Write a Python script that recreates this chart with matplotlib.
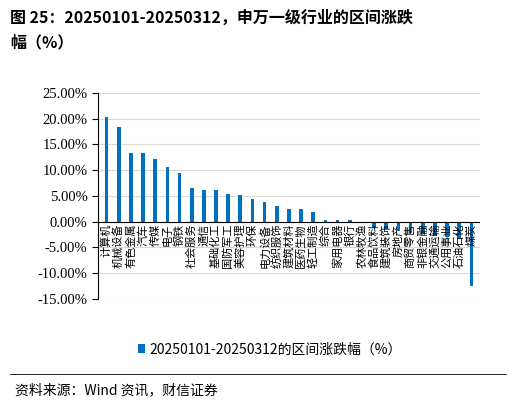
import matplotlib.pyplot as plt
from matplotlib.ticker import FuncFormatter

plt.rcParams['font.family'] = ['Noto Sans CJK SC', 'DejaVu Sans']

industries = ["计算机", "机械设备", "有色金属", "汽车", "传媒", "电子", "钢铁", "社会服务",
              "通信", "基础化工", "国防军工", "美容护理", "环保", "电力设备", "纺织服饰",
              "建筑材料", "医药生物", "轻工制造", "综合", "家用电器", "银行", "农林牧渔",
              "食品饮料", "建筑装饰", "房地产", "商贸零售", "非银金融", "交通运输",
              "公用事业", "石油石化", "煤炭"]
changes = [20.3, 18.3, 13.3, 13.3, 12.1, 10.7, 9.5, 6.5, 6.2, 6.2, 5.3, 5.1, 4.5, 3.9,
           3.1, 2.5, 2.5, 1.9, 0.4, 0.4, 0.4, -0.1, -1.2, -1.5, -1.8, -2.1, -2.4, -2.7,
           -3.0, -3.3, -12.4]
series_name = "20250101-20250312的区间涨跌幅（%）"

fig = plt.figure(figsize=(5.16, 4.04), dpi=100)
ax = fig.add_axes([0.19, 0.26, 0.74, 0.51])

x = range(len(industries))
ax.bar(x, changes, width=0.3, color="#0070C0", label=series_name, zorder=3)
ax.set_ylim(-15, 25)
ax.set_xlim(-0.7, len(industries) - 0.3)
ax.set_yticks(range(-15, 26, 5))
ax.yaxis.set_major_formatter(FuncFormatter(lambda v, p: f"{v:.2f}%"))
for t in ax.get_yticklabels():
    t.set_fontfamily("Liberation Serif")
    t.set_fontsize(10.5)
ax.grid(axis="y", color="#d9d9d9", linewidth=0.8, zorder=0)
ax.set_xticks([])
for s in ["top", "right", "bottom"]:
    ax.spines[s].set_visible(False)
ax.axhline(0, color="black", linewidth=0.8, zorder=4)
ax.tick_params(axis="y", length=4)

for i, name in enumerate(industries):
    ax.text(i, -0.4, name, rotation=90, ha="center", va="top", fontsize=8, zorder=5)

ax.legend(loc="upper center", bbox_to_anchor=(0.45, -0.15), frameon=False,
          fontsize=10, handlelength=0.5, handletextpad=0.3)

fig.text(0.02, 0.975, "图 25：20250101-20250312，申万一级行业的区间涨跌", fontsize=11.5,
         fontweight="bold", va="top")
fig.text(0.02, 0.915, "幅（%）", fontsize=11.5, fontweight="bold", va="top")
fig.add_artist(plt.Line2D([0.02, 0.98], [0.075, 0.075], color="black", linewidth=0.6))
fig.text(0.03, 0.035, "资料来源：Wind 资讯，财信证券", fontsize=10, style="italic", va="center")

fig.savefig("out.png", dpi=100)
